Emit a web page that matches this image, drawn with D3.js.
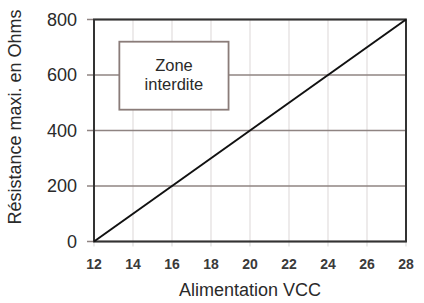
<!DOCTYPE html>
<html><head><meta charset="utf-8">
<script src="https://cdn.jsdelivr.net/npm/d3@7"></script>
<style>
html,body{margin:0;padding:0;background:#fff;}
svg{display:block;font-family:"Liberation Sans",Arial,Helvetica,sans-serif;}
</style></head>
<body>
<svg id="c" width="424" height="303"></svg>
<script>
const xTicks = [12,14,16,18,20,22,24,26,28];
const yTicks = [0,200,400,600,800];
const lineX = [12,28];
const lineY = [0,800];
const zoneLabel = ["Zone","interdite"];
const zoneX = [13.3,18.9];   // box extent in volts
const zoneY = [720,475];     // box extent in ohms
const xTitle = "Alimentation VCC";
const yTitle = "Résistance maxi. en Ohms";

const svg = d3.select("#c");
const L=94, R=406, T=19.5, B=241.5;
const x = d3.scaleLinear().domain([12,28]).range([L,R]);
const y = d3.scaleLinear().domain([0,800]).range([B,T]);

// vertical grid
svg.append("g").selectAll("line").data(xTicks.slice(1,-1)).join("line")
  .attr("x1",d=>x(d)).attr("x2",d=>x(d)).attr("y1",T).attr("y2",B)
  .attr("stroke","#e2dede").attr("stroke-width",1.2);
// x tick marks below
svg.append("g").selectAll("line").data(xTicks).join("line")
  .attr("x1",d=>x(d)).attr("x2",d=>x(d)).attr("y1",B).attr("y2",B+5)
  .attr("stroke","#ddd").attr("stroke-width",1.2);
// horizontal grid + left ticks
svg.append("g").selectAll("line").data(yTicks).join("line")
  .attr("x1",L-7).attr("x2",R).attr("y1",d=>y(d)).attr("y2",d=>y(d))
  .attr("stroke","#8f8482").attr("stroke-width",1.5);

// zone box
svg.append("rect")
  .attr("x",x(zoneX[0])).attr("y",y(zoneY[0]))
  .attr("width",x(zoneX[1])-x(zoneX[0])).attr("height",y(zoneY[1])-y(zoneY[0]))
  .attr("fill","#fff").attr("stroke","#8a7c79").attr("stroke-width",1.8);
const cx=(x(zoneX[0])+x(zoneX[1]))/2;
svg.append("text").attr("x",cx).attr("y",70.5).attr("text-anchor","middle")
  .attr("font-size",16.5).attr("fill","#2a2a2a").text(zoneLabel[0]);
svg.append("text").attr("x",cx).attr("y",90).attr("text-anchor","middle")
  .attr("font-size",16.5).attr("fill","#2a2a2a").text(zoneLabel[1]);

// frame
svg.append("rect").attr("x",L).attr("y",T).attr("width",R-L).attr("height",B-T)
  .attr("fill","none").attr("stroke","#333").attr("stroke-width",2);

// data line
svg.append("path")
  .datum(lineX.map((v,i)=>[v,lineY[i]]))
  .attr("d",d3.line().x(d=>x(d[0])).y(d=>y(d[1])))
  .attr("fill","none").attr("stroke","#111").attr("stroke-width",2);

// y tick labels
svg.append("g").selectAll("text").data(yTicks).join("text")
  .attr("x",77).attr("y",d=>y(d)).attr("dy","0.36em").attr("text-anchor","end")
  .attr("font-size",18).attr("fill","#2a2a2a").text(d=>d);
// x tick labels
svg.append("g").selectAll("text").data(xTicks).join("text")
  .attr("x",d=>x(d)).attr("y",269).attr("text-anchor","middle")
  .attr("font-size",14).attr("font-weight","bold").attr("fill","#3a3a3a").text(d=>d);

// titles
svg.append("text").attr("x",(L+R)/2).attr("y",296).attr("text-anchor","middle")
  .attr("font-size",18).attr("fill","#2a2a2a").text(xTitle);
svg.append("text").attr("transform","translate(21,117) rotate(-90)").attr("text-anchor","middle")
  .attr("font-size",18).attr("fill","#2a2a2a").text(yTitle);
</script>
</body></html>
